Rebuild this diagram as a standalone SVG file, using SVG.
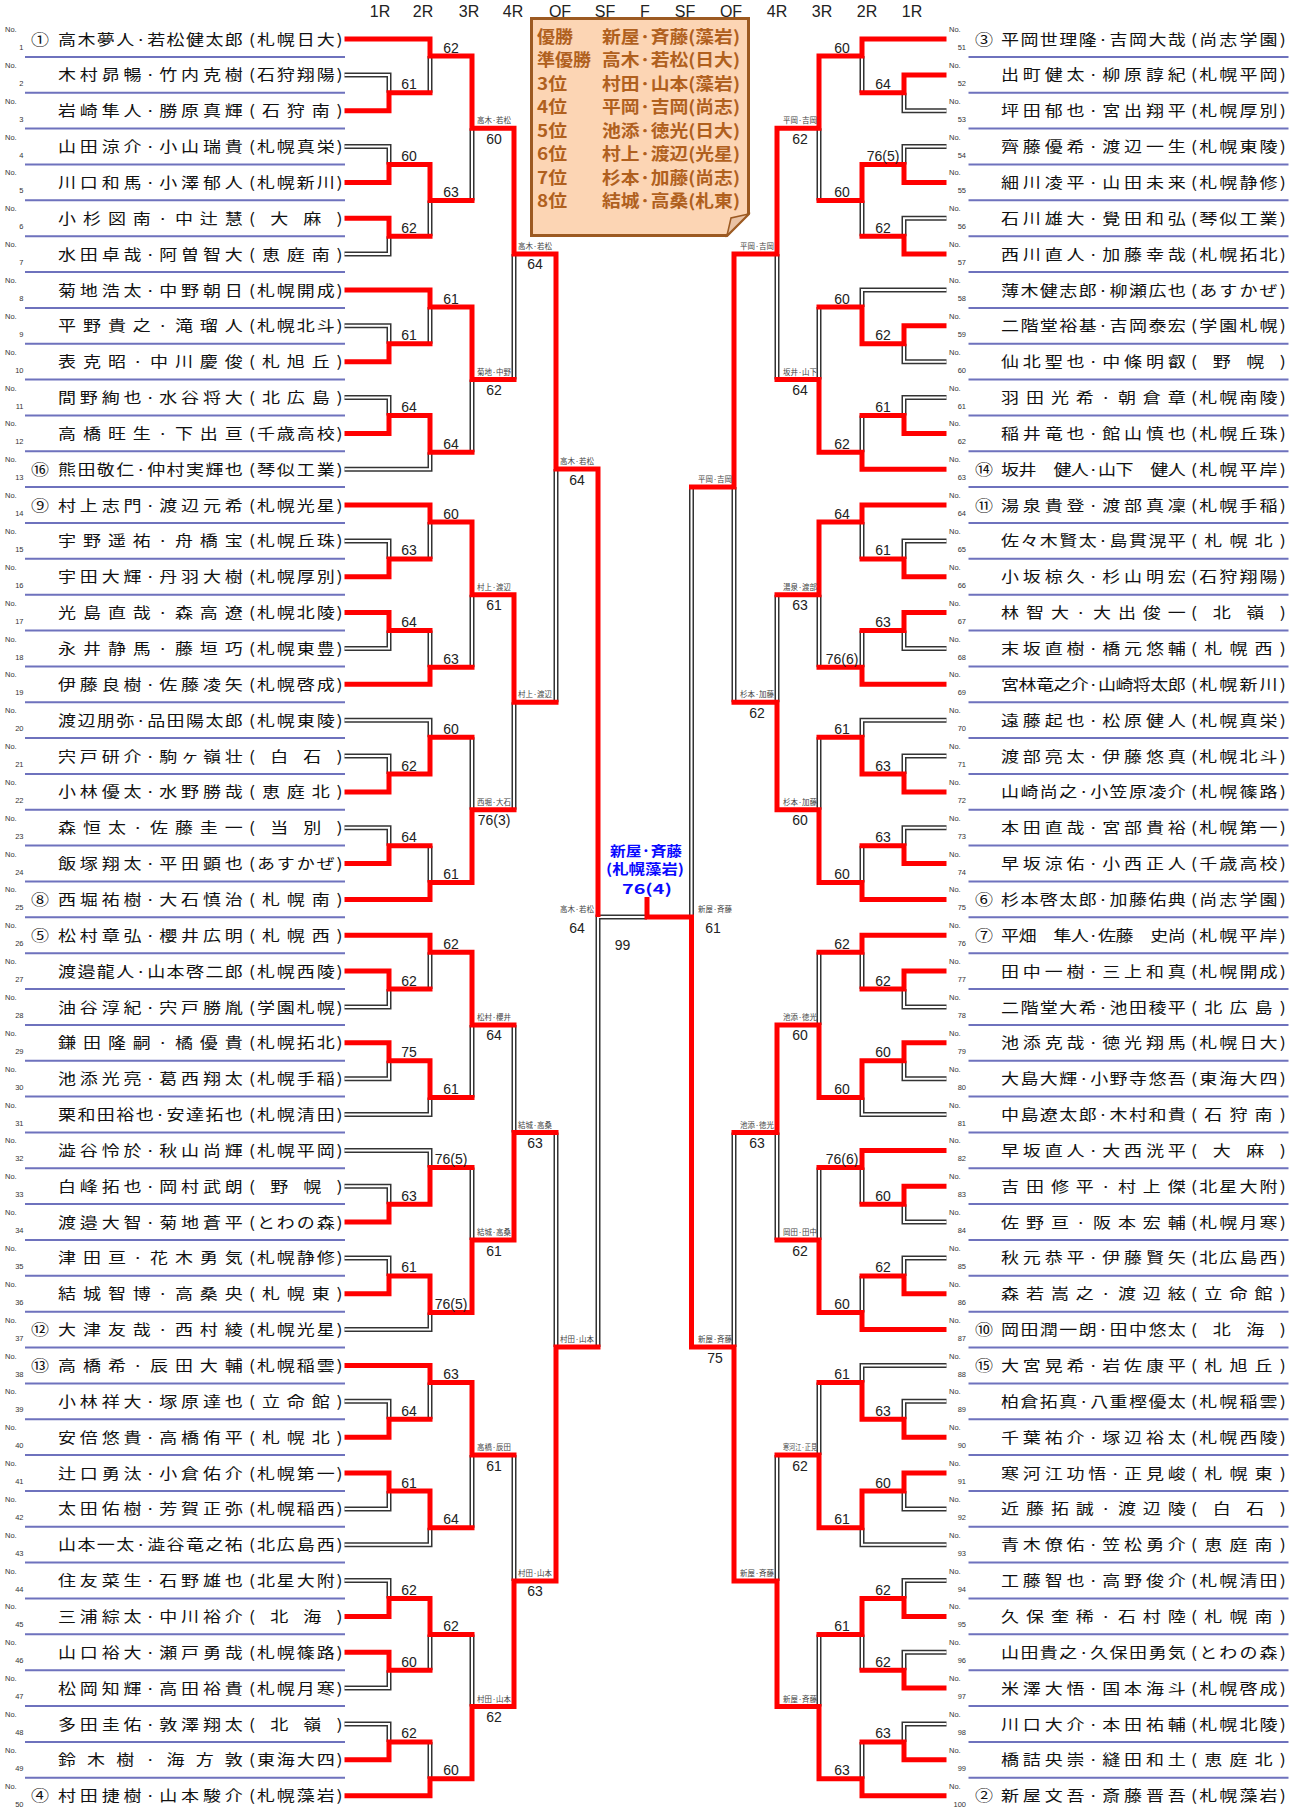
<svg xmlns="http://www.w3.org/2000/svg" width="1302" height="1809" viewBox="0 0 1302 1809">
<style>
text{font-family:"Noto Sans CJK JP","Noto Sans CJK SC",sans-serif}
.no,.nn,.s,.hd{font-family:"Liberation Sans",Arial,sans-serif}
.no{font-size:7.5px;fill:#333}
.nn{font-size:7.5px;fill:#333;text-anchor:end}
.nmL,.scL,.sdL,.nmR,.scR,.sdR{font-size:15px;fill:#111}
.nmL{transform:matrix(1.2,0,0,1,58,5.5)}
.scL{transform:matrix(1.2,0,0,1,249,5.5)}
.sdL{transform:matrix(1.2,0,0,1,40,5.5);text-anchor:middle}
.nmR{transform:matrix(1.2,0,0,1,1001,5.5)}
.scR{transform:matrix(1.2,0,0,1,1191,5.5)}
.sdR{transform:matrix(1.2,0,0,1,984,5.5);text-anchor:middle}
.s{font-size:14px;fill:#222;text-anchor:middle}
.lb{font-size:7.5px;fill:#444;text-anchor:middle}
.hd{font-size:16px;fill:#222;text-anchor:middle}
.lg{font-size:17px;font-weight:bold;fill:#b0601e}
.ch{font-size:14px;font-weight:bold;fill:#0a0aff;text-anchor:middle}
.r{fill:none;stroke:#ff0000;stroke-width:5;stroke-linejoin:miter}
.sep{fill:none;stroke:#6e72bd;stroke-width:2}
</style>
<defs>
<path id="sepL" d="M25 56.9H345M25 92.8H345M25 128.6H345M25 164.5H345M25 200.3H345M25 236.2H345M25 272H345M25 307.9H345M25 343.7H345M25 379.6H345M25 415.4H345M25 451.3H345M25 487.1H345M25 523H345M25 558.8H345M25 594.7H345M25 630.5H345M25 666.4H345M25 702.2H345M25 738.1H345M25 773.9H345M25 809.8H345M25 845.6H345M25 881.5H345M25 917.3H345M25 953.2H345M25 989H345M25 1024.9H345M25 1060.7H345M25 1096.6H345M25 1132.4H345M25 1168.3H345M25 1204.1H345M25 1240H345M25 1275.8H345M25 1311.7H345M25 1347.5H345M25 1383.4H345M25 1419.2H345M25 1455.1H345M25 1490.9H345M25 1526.8H345M25 1562.6H345M25 1598.5H345M25 1634.3H345M25 1670.2H345M25 1706H345M25 1741.9H345M25 1777.7H345"/>
<path id="dbl" d="M344.5 74.9H389V92.8M344.5 146.6H389V164.5M344.5 254.1H389V236.2M344.5 325.8H389V343.8M344.5 397.5H389V415.5M344.5 469.2H430V452.2M344.5 540.9H389V558.9M344.5 648.5H389V630.6M344.5 720.2H430V737.2M344.5 756H389V774M344.5 827.7H389V845.7M344.5 1007H389V989.1M344.5 1078.7H389V1060.8M344.5 1114.5H430V1097.5M344.5 1150.4H430V1167.4M344.5 1186.2H389V1204.2M344.5 1257.9H389V1275.9M344.5 1329.6H430V1312.6M344.5 1401.3H389V1419.3M344.5 1508.9H389V1491M344.5 1544.7H430V1527.7M344.5 1580.6H389V1598.5M344.5 1688.1H389V1670.2M344.5 1724H389V1741.9
M430 92.8V56M472 200.4V128.2M430 236.2V200.4M514 379.6V253.9M430 343.8V307M472 452.2V379.6M556 702.3V469M430 558.9V522.1M430 630.6V667.3M472 667.3V594.7M472 737.2V809.8M430 845.7V882.4M514 809.8V702.3M514 1024.9V1132.5M430 989.1V952.3M472 1097.5V1024.9M472 1167.4V1240M556 1132.5V1347M514 1455.1V1580.9M430 1419.3V1382.5M472 1527.7V1455.1M472 1634.4V1706.6M430 1670.2V1634.4M430 1741.9V1778.7M647 917H598V1347
M946.5 110.7H904V92.8M946.5 146.6H904V164.5M946.5 218.3H904V236.2M946.5 290H862V307M946.5 361.7H904V343.8M946.5 397.5H904V415.5M946.5 540.9H904V558.9M946.5 648.5H904V630.6M946.5 720.2H862V737.2M946.5 756H904V774M946.5 827.7H904V845.7M946.5 1007H904V989.1M946.5 1078.7H904V1060.8M946.5 1114.5H862V1097.5M946.5 1222.1H904V1204.2M946.5 1257.9H904V1275.9M946.5 1365.5H862V1382.5M946.5 1401.3H904V1419.3M946.5 1508.9H904V1491M946.5 1544.7H862V1527.7M946.5 1580.6H904V1598.5M946.5 1652.3H904V1670.2M946.5 1724H904V1741.9
M691.5 487V917M862 92.8V56M819 200.4V128.2M862 236.2V200.4M819 307V379.6M862 415.5V452.2M777 379.6V253.9M777 594.7V702.3M862 558.9V522.1M862 630.6V667.3M819 667.3V594.7M819 737.2V809.8M862 845.7V882.4M734 702.3V487M819 952.3V1024.9M862 989.1V952.3M734 1132.5V1347M819 1167.4V1240M862 1204.2V1167.4M862 1275.9V1312.6M777 1240V1132.5M819 1382.5V1455.1M777 1455.1V1580.9M819 1634.4V1706.6M862 1670.2V1634.4M862 1741.9V1778.7"/>
</defs>
<rect width="1302" height="1809" fill="#fff"/>

<g id="header">
<text class="hd" x="380" y="17">1R</text><text class="hd" x="423" y="17">2R</text><text class="hd" x="469" y="17">3R</text><text class="hd" x="513" y="17">4R</text><text class="hd" x="560" y="17">QF</text><text class="hd" x="605" y="17">SF</text><text class="hd" x="645" y="17">F</text><text class="hd" x="685" y="17">SF</text><text class="hd" x="731" y="17">QF</text><text class="hd" x="777" y="17">4R</text><text class="hd" x="822" y="17">3R</text><text class="hd" x="867" y="17">2R</text><text class="hd" x="912" y="17">1R</text>
</g>

<g id="separators">
<use href="#sepL" class="sep"/>
<use href="#sepL" class="sep" transform="translate(943.5 0)"/>
</g>

<g id="legend">
<path d="M531.5 18.5H748.5V214L727 235.5H531.5Z" fill="#fcd5b4" stroke="#9c5a22" stroke-width="3"/>
<path d="M748.5 214L727 235.5L731 218Z" fill="#e9c2a4" stroke="#9c5a22" stroke-width="1.5"/>
<text class="lg" x="537" y="42.5" textLength="36" lengthAdjust="spacingAndGlyphs">優勝</text><text class="lg" x="602" y="42.5" textLength="138" lengthAdjust="spacingAndGlyphs">新屋·斉藤(藻岩)</text>
<text class="lg" x="537" y="66" textLength="54" lengthAdjust="spacingAndGlyphs">準優勝</text><text class="lg" x="602" y="66" textLength="138" lengthAdjust="spacingAndGlyphs">高木·若松(日大)</text>
<text class="lg" x="537" y="89.5" textLength="30" lengthAdjust="spacingAndGlyphs">3位</text><text class="lg" x="602" y="89.5" textLength="138" lengthAdjust="spacingAndGlyphs">村田·山本(藻岩)</text>
<text class="lg" x="537" y="113" textLength="30" lengthAdjust="spacingAndGlyphs">4位</text><text class="lg" x="602" y="113" textLength="138" lengthAdjust="spacingAndGlyphs">平岡·吉岡(尚志)</text>
<text class="lg" x="537" y="136.5" textLength="30" lengthAdjust="spacingAndGlyphs">5位</text><text class="lg" x="602" y="136.5" textLength="138" lengthAdjust="spacingAndGlyphs">池添·徳光(日大)</text>
<text class="lg" x="537" y="160" textLength="30" lengthAdjust="spacingAndGlyphs">6位</text><text class="lg" x="602" y="160" textLength="138" lengthAdjust="spacingAndGlyphs">村上·渡辺(光星)</text>
<text class="lg" x="537" y="183.5" textLength="30" lengthAdjust="spacingAndGlyphs">7位</text><text class="lg" x="602" y="183.5" textLength="138" lengthAdjust="spacingAndGlyphs">杉本·加藤(尚志)</text>
<text class="lg" x="537" y="207" textLength="30" lengthAdjust="spacingAndGlyphs">8位</text><text class="lg" x="602" y="207" textLength="138" lengthAdjust="spacingAndGlyphs">結城·高桑(札東)</text>
</g>

<g id="connectors">
<use href="#dbl" fill="none" stroke="#333" stroke-width="5"/>
<use href="#dbl" fill="none" stroke="#fff" stroke-width="2"/>
<path class="r" d="M344.5 39H430V56H472V128.2H514V253.9H556V469H598V917M344.5 110.7H389V92.8H432.5M344.5 182.4H389V164.5H430V200.4H474.5M344.5 218.3H389V236.2H432.5M344.5 290H430V307H472V379.6H516.5M344.5 361.7H389V343.8H432.5M344.5 433.4H389V415.5H430V452.2H474.5M344.5 505.1H430V522.1H472V594.7H514V702.3H558.5M344.5 576.8H389V558.9H432.5M344.5 612.6H389V630.6H432.5M344.5 684.3H430V667.3H474.5M344.5 791.9H389V774H430V737.2H474.5M344.5 863.6H389V845.7H432.5M344.5 899.4H430V882.4H472V809.8H516.5M344.5 935.3H430V952.3H472V1024.9H516.5M344.5 971.1H389V989.1H432.5M344.5 1042.8H389V1060.8H430V1097.5H474.5M344.5 1222.1H389V1204.2H430V1167.4H474.5M344.5 1293.8H389V1275.9H430V1312.6H472V1240H514V1132.5H558.5M344.5 1365.5H430V1382.5H472V1455.1H516.5M344.5 1437.2H389V1419.3H432.5M344.5 1473H389V1491H430V1527.7H474.5M344.5 1616.4H389V1598.5H430V1634.4H474.5M344.5 1652.3H389V1670.2H432.5M344.5 1759.8H389V1741.9H432.5M344.5 1795.7H430V1778.7H472V1706.6H514V1580.9H556V1347H600.5"/>
<path class="r" d="M946.5 39H862V56H819V128.2H777V253.9H734V487H689M946.5 74.9H904V92.8H859.5M946.5 182.4H904V164.5H862V200.4H816.5M946.5 254.1H904V236.2H859.5M946.5 325.8H904V343.8H862V307H816.5M946.5 433.4H904V415.5H859.5M946.5 469.2H862V452.2H819V379.6H774.5M946.5 505.1H862V522.1H819V594.7H774.5M946.5 576.8H904V558.9H859.5M946.5 612.6H904V630.6H859.5M946.5 684.3H862V667.3H816.5M946.5 791.9H904V774H862V737.2H816.5M946.5 863.6H904V845.7H859.5M946.5 899.4H862V882.4H819V809.8H777V702.3H731.5M946.5 935.3H862V952.3H816.5M946.5 971.1H904V989.1H859.5M946.5 1042.8H904V1060.8H862V1097.5H819V1024.9H777V1132.5H731.5M946.5 1150.4H862V1167.4H816.5M946.5 1186.2H904V1204.2H859.5M946.5 1293.8H904V1275.9H859.5M946.5 1329.6H862V1312.6H819V1240H774.5M946.5 1437.2H904V1419.3H862V1382.5H816.5M946.5 1473H904V1491H862V1527.7H819V1455.1H774.5M946.5 1616.4H904V1598.5H862V1634.4H816.5M946.5 1688.1H904V1670.2H859.5M946.5 1759.8H904V1741.9H859.5M946.5 1795.7H862V1778.7H819V1706.6H777V1580.9H734V1347H691.5V917H647V897"/>
</g>

<g id="scores">
<text class="s" x="409" y="89.3">61</text><text class="s" x="409" y="161">60</text><text class="s" x="409" y="232.7">62</text><text class="s" x="409" y="340.3">61</text><text class="s" x="409" y="412">64</text><text class="s" x="409" y="555.4">63</text><text class="s" x="409" y="627.1">64</text><text class="s" x="409" y="770.5">62</text><text class="s" x="409" y="842.2">64</text><text class="s" x="409" y="985.6">62</text><text class="s" x="409" y="1057.3">75</text><text class="s" x="409" y="1200.7">63</text><text class="s" x="409" y="1272.4">61</text><text class="s" x="409" y="1415.8">64</text><text class="s" x="409" y="1487.5">61</text><text class="s" x="409" y="1595">62</text><text class="s" x="409" y="1666.7">60</text><text class="s" x="409" y="1738.4">62</text>
<text class="s" x="451" y="52.5">62</text><text class="s" x="451" y="196.9">63</text><text class="s" x="451" y="303.5">61</text><text class="s" x="451" y="448.7">64</text><text class="s" x="451" y="518.6">60</text><text class="s" x="451" y="663.8">63</text><text class="s" x="451" y="733.7">60</text><text class="s" x="451" y="878.9">61</text><text class="s" x="451" y="948.8">62</text><text class="s" x="451" y="1094">61</text><text class="s" x="451" y="1163.9">76(5)</text><text class="s" x="451" y="1309.1">76(5)</text><text class="s" x="451" y="1379">63</text><text class="s" x="451" y="1524.2">64</text><text class="s" x="451" y="1630.9">62</text><text class="s" x="451" y="1775.2">60</text>
<text class="s" x="883" y="89.3">64</text><text class="s" x="883" y="161">76(5)</text><text class="s" x="883" y="232.7">62</text><text class="s" x="883" y="340.3">62</text><text class="s" x="883" y="412">61</text><text class="s" x="883" y="555.4">61</text><text class="s" x="883" y="627.1">63</text><text class="s" x="883" y="770.5">63</text><text class="s" x="883" y="842.2">63</text><text class="s" x="883" y="985.6">62</text><text class="s" x="883" y="1057.3">60</text><text class="s" x="883" y="1200.7">60</text><text class="s" x="883" y="1272.4">62</text><text class="s" x="883" y="1415.8">63</text><text class="s" x="883" y="1487.5">60</text><text class="s" x="883" y="1595">62</text><text class="s" x="883" y="1666.7">62</text><text class="s" x="883" y="1738.4">63</text>
<text class="s" x="842" y="52.5">60</text><text class="s" x="842" y="196.9">60</text><text class="s" x="842" y="303.5">60</text><text class="s" x="842" y="448.7">62</text><text class="s" x="842" y="518.6">64</text><text class="s" x="842" y="663.8">76(6)</text><text class="s" x="842" y="733.7">61</text><text class="s" x="842" y="878.9">60</text><text class="s" x="842" y="948.8">62</text><text class="s" x="842" y="1094">60</text><text class="s" x="842" y="1163.9">76(6)</text><text class="s" x="842" y="1309.1">60</text><text class="s" x="842" y="1379">61</text><text class="s" x="842" y="1524.2">61</text><text class="s" x="842" y="1630.9">61</text><text class="s" x="842" y="1775.2">63</text>
<text class="lb" x="494" y="123.2" textLength="34" lengthAdjust="spacingAndGlyphs">高木·若松</text><text class="s" x="494" y="143.7">60</text>
<text class="lb" x="494" y="374.6" textLength="34" lengthAdjust="spacingAndGlyphs">菊地·中野</text><text class="s" x="494" y="395.1">62</text>
<text class="lb" x="494" y="589.7" textLength="34" lengthAdjust="spacingAndGlyphs">村上·渡辺</text><text class="s" x="494" y="610.2">61</text>
<text class="lb" x="494" y="804.8" textLength="34" lengthAdjust="spacingAndGlyphs">西堀·大石</text><text class="s" x="494" y="825.3">76(3)</text>
<text class="lb" x="494" y="1019.9" textLength="34" lengthAdjust="spacingAndGlyphs">松村·櫻井</text><text class="s" x="494" y="1040.4">64</text>
<text class="lb" x="494" y="1235" textLength="34" lengthAdjust="spacingAndGlyphs">結城·高桑</text><text class="s" x="494" y="1255.5">61</text>
<text class="lb" x="494" y="1450.1" textLength="34" lengthAdjust="spacingAndGlyphs">高橋·辰田</text><text class="s" x="494" y="1470.6">61</text>
<text class="lb" x="494" y="1701.6" textLength="34" lengthAdjust="spacingAndGlyphs">村田·山本</text><text class="s" x="494" y="1722.1">62</text>
<text class="lb" x="535" y="248.9" textLength="34" lengthAdjust="spacingAndGlyphs">高木·若松</text><text class="s" x="535" y="269.4">64</text>
<text class="lb" x="535" y="697.3" textLength="34" lengthAdjust="spacingAndGlyphs">村上·渡辺</text>
<text class="lb" x="535" y="1127.5" textLength="34" lengthAdjust="spacingAndGlyphs">結城·高桑</text><text class="s" x="535" y="1148">63</text>
<text class="lb" x="535" y="1575.9" textLength="34" lengthAdjust="spacingAndGlyphs">村田·山本</text><text class="s" x="535" y="1596.4">63</text>
<text class="lb" x="577" y="464" textLength="34" lengthAdjust="spacingAndGlyphs">高木·若松</text><text class="s" x="577" y="484.5">64</text>
<text class="lb" x="577" y="1342" textLength="34" lengthAdjust="spacingAndGlyphs">村田·山本</text>
<text class="lb" x="577" y="912" textLength="34" lengthAdjust="spacingAndGlyphs">高木·若松</text><text class="s" x="577" y="932.5">64</text>
<text class="s" x="622.5" y="950">99</text>
<text class="lb" x="800" y="123.2" textLength="34" lengthAdjust="spacingAndGlyphs">平岡·吉岡</text><text class="s" x="800" y="143.7">62</text>
<text class="lb" x="800" y="374.6" textLength="34" lengthAdjust="spacingAndGlyphs">坂井·山下</text><text class="s" x="800" y="395.1">64</text>
<text class="lb" x="800" y="589.7" textLength="34" lengthAdjust="spacingAndGlyphs">湯泉·渡部</text><text class="s" x="800" y="610.2">63</text>
<text class="lb" x="800" y="804.8" textLength="34" lengthAdjust="spacingAndGlyphs">杉本·加藤</text><text class="s" x="800" y="825.3">60</text>
<text class="lb" x="800" y="1019.9" textLength="34" lengthAdjust="spacingAndGlyphs">池添·徳光</text><text class="s" x="800" y="1040.4">60</text>
<text class="lb" x="800" y="1235" textLength="34" lengthAdjust="spacingAndGlyphs">岡田·田中</text><text class="s" x="800" y="1255.5">62</text>
<text class="lb" x="800" y="1450.1" textLength="34" lengthAdjust="spacingAndGlyphs">寒河江·正見</text><text class="s" x="800" y="1470.6">62</text>
<text class="lb" x="800" y="1701.6" textLength="34" lengthAdjust="spacingAndGlyphs">新屋·斉藤</text>
<text class="lb" x="757" y="248.9" textLength="34" lengthAdjust="spacingAndGlyphs">平岡·吉岡</text>
<text class="lb" x="757" y="697.3" textLength="34" lengthAdjust="spacingAndGlyphs">杉本·加藤</text><text class="s" x="757" y="717.8">62</text>
<text class="lb" x="757" y="1127.5" textLength="34" lengthAdjust="spacingAndGlyphs">池添·徳光</text><text class="s" x="757" y="1148">63</text>
<text class="lb" x="757" y="1575.9" textLength="34" lengthAdjust="spacingAndGlyphs">新屋·斉藤</text>
<text class="lb" x="715" y="482" textLength="34" lengthAdjust="spacingAndGlyphs">平岡·吉岡</text>
<text class="lb" x="715" y="1342" textLength="34" lengthAdjust="spacingAndGlyphs">新屋·斉藤</text><text class="s" x="715" y="1362.5">75</text>
<text class="lb" x="715" y="912" textLength="34" lengthAdjust="spacingAndGlyphs">新屋·斉藤</text><text class="s" x="713" y="932.5">61</text>
</g>

<g id="champion">
<text class="ch" x="646" y="856" textLength="72" lengthAdjust="spacingAndGlyphs">新屋·斉藤</text>
<text class="ch" x="645" y="874" textLength="78" lengthAdjust="spacingAndGlyphs">(札幌藻岩)</text>
<text class="ch" x="647" y="894" textLength="50" lengthAdjust="spacingAndGlyphs">76(4)</text>
</g>

<g id="p1" transform="translate(0 39)"><text class="no" x="5" y="-7">No.</text><text class="nn" x="23.5" y="11">1</text><text class="sdL">①</text><text class="nmL" textLength="154">高木夢人·若松健太郎</text><text class="scL" textLength="78">(札幌日大)</text></g>
<g id="p2" transform="translate(0 74.9)"><text class="no" x="5" y="-7">No.</text><text class="nn" x="23.5" y="11">2</text><text class="nmL" textLength="154">木村昴暢·竹内克樹</text><text class="scL" textLength="78">(石狩翔陽)</text></g>
<g id="p3" transform="translate(0 110.7)"><text class="no" x="5" y="-7">No.</text><text class="nn" x="23.5" y="11">3</text><text class="nmL" textLength="154">岩崎隼人·勝原真輝</text><text class="scL" textLength="78">(石狩南)</text></g>
<g id="p4" transform="translate(0 146.6)"><text class="no" x="5" y="-7">No.</text><text class="nn" x="23.5" y="11">4</text><text class="nmL" textLength="154">山田涼介·小山瑞貴</text><text class="scL" textLength="78">(札幌真栄)</text></g>
<g id="p5" transform="translate(0 182.4)"><text class="no" x="5" y="-7">No.</text><text class="nn" x="23.5" y="11">5</text><text class="nmL" textLength="154">川口和馬·小澤郁人</text><text class="scL" textLength="78">(札幌新川)</text></g>
<g id="p6" transform="translate(0 218.3)"><text class="no" x="5" y="-7">No.</text><text class="nn" x="23.5" y="11">6</text><text class="nmL" textLength="154">小杉図南·中辻慧</text><text class="scL" textLength="78">(大麻)</text></g>
<g id="p7" transform="translate(0 254.1)"><text class="no" x="5" y="-7">No.</text><text class="nn" x="23.5" y="11">7</text><text class="nmL" textLength="154">水田卓哉·阿曽智大</text><text class="scL" textLength="78">(恵庭南)</text></g>
<g id="p8" transform="translate(0 290)"><text class="no" x="5" y="-7">No.</text><text class="nn" x="23.5" y="11">8</text><text class="nmL" textLength="154">菊地浩太·中野朝日</text><text class="scL" textLength="78">(札幌開成)</text></g>
<g id="p9" transform="translate(0 325.8)"><text class="no" x="5" y="-7">No.</text><text class="nn" x="23.5" y="11">9</text><text class="nmL" textLength="154">平野貴之·滝瑠人</text><text class="scL" textLength="78">(札幌北斗)</text></g>
<g id="p10" transform="translate(0 361.7)"><text class="no" x="5" y="-7">No.</text><text class="nn" x="23.5" y="11">10</text><text class="nmL" textLength="154">表克昭·中川慶俊</text><text class="scL" textLength="78">(札旭丘)</text></g>
<g id="p11" transform="translate(0 397.5)"><text class="no" x="5" y="-7">No.</text><text class="nn" x="23.5" y="11">11</text><text class="nmL" textLength="154">間野絢也·水谷将大</text><text class="scL" textLength="78">(北広島)</text></g>
<g id="p12" transform="translate(0 433.4)"><text class="no" x="5" y="-7">No.</text><text class="nn" x="23.5" y="11">12</text><text class="nmL" textLength="154">高橋旺生·下出亘</text><text class="scL" textLength="78">(千歳高校)</text></g>
<g id="p13" transform="translate(0 469.2)"><text class="no" x="5" y="-7">No.</text><text class="nn" x="23.5" y="11">13</text><text class="sdL">⑯</text><text class="nmL" textLength="154">熊田敬仁·仲村実輝也</text><text class="scL" textLength="78">(琴似工業)</text></g>
<g id="p14" transform="translate(0 505.1)"><text class="no" x="5" y="-7">No.</text><text class="nn" x="23.5" y="11">14</text><text class="sdL">⑨</text><text class="nmL" textLength="154">村上志門·渡辺元希</text><text class="scL" textLength="78">(札幌光星)</text></g>
<g id="p15" transform="translate(0 540.9)"><text class="no" x="5" y="-7">No.</text><text class="nn" x="23.5" y="11">15</text><text class="nmL" textLength="154">宇野遥祐·舟橋宝</text><text class="scL" textLength="78">(札幌丘珠)</text></g>
<g id="p16" transform="translate(0 576.8)"><text class="no" x="5" y="-7">No.</text><text class="nn" x="23.5" y="11">16</text><text class="nmL" textLength="154">宇田大輝·丹羽大樹</text><text class="scL" textLength="78">(札幌厚別)</text></g>
<g id="p17" transform="translate(0 612.6)"><text class="no" x="5" y="-7">No.</text><text class="nn" x="23.5" y="11">17</text><text class="nmL" textLength="154">光島直哉·森高遼</text><text class="scL" textLength="78">(札幌北陵)</text></g>
<g id="p18" transform="translate(0 648.5)"><text class="no" x="5" y="-7">No.</text><text class="nn" x="23.5" y="11">18</text><text class="nmL" textLength="154">永井静馬·藤垣巧</text><text class="scL" textLength="78">(札幌東豊)</text></g>
<g id="p19" transform="translate(0 684.3)"><text class="no" x="5" y="-7">No.</text><text class="nn" x="23.5" y="11">19</text><text class="nmL" textLength="154">伊藤良樹·佐藤凌矢</text><text class="scL" textLength="78">(札幌啓成)</text></g>
<g id="p20" transform="translate(0 720.2)"><text class="no" x="5" y="-7">No.</text><text class="nn" x="23.5" y="11">20</text><text class="nmL" textLength="154">渡辺朋弥·品田陽太郎</text><text class="scL" textLength="78">(札幌東陵)</text></g>
<g id="p21" transform="translate(0 756)"><text class="no" x="5" y="-7">No.</text><text class="nn" x="23.5" y="11">21</text><text class="nmL" textLength="154">宍戸研介·駒ヶ嶺壮</text><text class="scL" textLength="78">(白石)</text></g>
<g id="p22" transform="translate(0 791.9)"><text class="no" x="5" y="-7">No.</text><text class="nn" x="23.5" y="11">22</text><text class="nmL" textLength="154">小林優太·水野勝哉</text><text class="scL" textLength="78">(恵庭北)</text></g>
<g id="p23" transform="translate(0 827.7)"><text class="no" x="5" y="-7">No.</text><text class="nn" x="23.5" y="11">23</text><text class="nmL" textLength="154">森恒太·佐藤圭一</text><text class="scL" textLength="78">(当別)</text></g>
<g id="p24" transform="translate(0 863.6)"><text class="no" x="5" y="-7">No.</text><text class="nn" x="23.5" y="11">24</text><text class="nmL" textLength="154">飯塚翔太·平田顕也</text><text class="scL" textLength="78">(あすかぜ)</text></g>
<g id="p25" transform="translate(0 899.4)"><text class="no" x="5" y="-7">No.</text><text class="nn" x="23.5" y="11">25</text><text class="sdL">⑧</text><text class="nmL" textLength="154">西堀祐樹·大石慎治</text><text class="scL" textLength="78">(札幌南)</text></g>
<g id="p26" transform="translate(0 935.3)"><text class="no" x="5" y="-7">No.</text><text class="nn" x="23.5" y="11">26</text><text class="sdL">⑤</text><text class="nmL" textLength="154">松村章弘·櫻井広明</text><text class="scL" textLength="78">(札幌西)</text></g>
<g id="p27" transform="translate(0 971.1)"><text class="no" x="5" y="-7">No.</text><text class="nn" x="23.5" y="11">27</text><text class="nmL" textLength="154">渡邉龍人·山本啓二郎</text><text class="scL" textLength="78">(札幌西陵)</text></g>
<g id="p28" transform="translate(0 1007)"><text class="no" x="5" y="-7">No.</text><text class="nn" x="23.5" y="11">28</text><text class="nmL" textLength="154">油谷淳紀·宍戸勝胤</text><text class="scL" textLength="78">(学園札幌)</text></g>
<g id="p29" transform="translate(0 1042.8)"><text class="no" x="5" y="-7">No.</text><text class="nn" x="23.5" y="11">29</text><text class="nmL" textLength="154">鎌田隆嗣·橘優貴</text><text class="scL" textLength="78">(札幌拓北)</text></g>
<g id="p30" transform="translate(0 1078.7)"><text class="no" x="5" y="-7">No.</text><text class="nn" x="23.5" y="11">30</text><text class="nmL" textLength="154">池添光亮·葛西翔太</text><text class="scL" textLength="78">(札幌手稲)</text></g>
<g id="p31" transform="translate(0 1114.5)"><text class="no" x="5" y="-7">No.</text><text class="nn" x="23.5" y="11">31</text><text class="nmL" textLength="154">栗和田裕也·安達拓也</text><text class="scL" textLength="78">(札幌清田)</text></g>
<g id="p32" transform="translate(0 1150.4)"><text class="no" x="5" y="-7">No.</text><text class="nn" x="23.5" y="11">32</text><text class="nmL" textLength="154">澁谷怜於·秋山尚輝</text><text class="scL" textLength="78">(札幌平岡)</text></g>
<g id="p33" transform="translate(0 1186.2)"><text class="no" x="5" y="-7">No.</text><text class="nn" x="23.5" y="11">33</text><text class="nmL" textLength="154">白峰拓也·岡村武朗</text><text class="scL" textLength="78">(野幌)</text></g>
<g id="p34" transform="translate(0 1222.1)"><text class="no" x="5" y="-7">No.</text><text class="nn" x="23.5" y="11">34</text><text class="nmL" textLength="154">渡邉大智·菊地蒼平</text><text class="scL" textLength="78">(とわの森)</text></g>
<g id="p35" transform="translate(0 1257.9)"><text class="no" x="5" y="-7">No.</text><text class="nn" x="23.5" y="11">35</text><text class="nmL" textLength="154">津田亘·花木勇気</text><text class="scL" textLength="78">(札幌静修)</text></g>
<g id="p36" transform="translate(0 1293.8)"><text class="no" x="5" y="-7">No.</text><text class="nn" x="23.5" y="11">36</text><text class="nmL" textLength="154">結城智博·高桑央</text><text class="scL" textLength="78">(札幌東)</text></g>
<g id="p37" transform="translate(0 1329.6)"><text class="no" x="5" y="-7">No.</text><text class="nn" x="23.5" y="11">37</text><text class="sdL">⑫</text><text class="nmL" textLength="154">大津友哉·西村綾</text><text class="scL" textLength="78">(札幌光星)</text></g>
<g id="p38" transform="translate(0 1365.5)"><text class="no" x="5" y="-7">No.</text><text class="nn" x="23.5" y="11">38</text><text class="sdL">⑬</text><text class="nmL" textLength="154">高橋希·辰田大輔</text><text class="scL" textLength="78">(札幌稲雲)</text></g>
<g id="p39" transform="translate(0 1401.3)"><text class="no" x="5" y="-7">No.</text><text class="nn" x="23.5" y="11">39</text><text class="nmL" textLength="154">小林祥大·塚原達也</text><text class="scL" textLength="78">(立命館)</text></g>
<g id="p40" transform="translate(0 1437.2)"><text class="no" x="5" y="-7">No.</text><text class="nn" x="23.5" y="11">40</text><text class="nmL" textLength="154">安倍悠貴·高橋侑平</text><text class="scL" textLength="78">(札幌北)</text></g>
<g id="p41" transform="translate(0 1473)"><text class="no" x="5" y="-7">No.</text><text class="nn" x="23.5" y="11">41</text><text class="nmL" textLength="154">辻口勇汰·小倉佑介</text><text class="scL" textLength="78">(札幌第一)</text></g>
<g id="p42" transform="translate(0 1508.9)"><text class="no" x="5" y="-7">No.</text><text class="nn" x="23.5" y="11">42</text><text class="nmL" textLength="154">太田佑樹·芳賀正弥</text><text class="scL" textLength="78">(札幌稲西)</text></g>
<g id="p43" transform="translate(0 1544.7)"><text class="no" x="5" y="-7">No.</text><text class="nn" x="23.5" y="11">43</text><text class="nmL" textLength="154">山本一太·澁谷竜之祐</text><text class="scL" textLength="78">(北広島西)</text></g>
<g id="p44" transform="translate(0 1580.6)"><text class="no" x="5" y="-7">No.</text><text class="nn" x="23.5" y="11">44</text><text class="nmL" textLength="154">住友菜生·石野雄也</text><text class="scL" textLength="78">(北星大附)</text></g>
<g id="p45" transform="translate(0 1616.4)"><text class="no" x="5" y="-7">No.</text><text class="nn" x="23.5" y="11">45</text><text class="nmL" textLength="154">三浦綜太·中川裕介</text><text class="scL" textLength="78">(北海)</text></g>
<g id="p46" transform="translate(0 1652.3)"><text class="no" x="5" y="-7">No.</text><text class="nn" x="23.5" y="11">46</text><text class="nmL" textLength="154">山口裕大·瀬戸勇哉</text><text class="scL" textLength="78">(札幌篠路)</text></g>
<g id="p47" transform="translate(0 1688.1)"><text class="no" x="5" y="-7">No.</text><text class="nn" x="23.5" y="11">47</text><text class="nmL" textLength="154">松岡知輝·高田裕貴</text><text class="scL" textLength="78">(札幌月寒)</text></g>
<g id="p48" transform="translate(0 1724)"><text class="no" x="5" y="-7">No.</text><text class="nn" x="23.5" y="11">48</text><text class="nmL" textLength="154">多田圭佑·敦澤翔太</text><text class="scL" textLength="78">(北嶺)</text></g>
<g id="p49" transform="translate(0 1759.8)"><text class="no" x="5" y="-7">No.</text><text class="nn" x="23.5" y="11">49</text><text class="nmL" textLength="154">鈴木樹·海方敦</text><text class="scL" textLength="78">(東海大四)</text></g>
<g id="p50" transform="translate(0 1795.7)"><text class="no" x="5" y="-7">No.</text><text class="nn" x="23.5" y="11">50</text><text class="sdL">④</text><text class="nmL" textLength="154">村田捷樹·山本駿介</text><text class="scL" textLength="78">(札幌藻岩)</text></g>

<g id="p51" transform="translate(0 39)"><text class="no" x="949" y="-7">No.</text><text class="nn" x="966" y="11">51</text><text class="sdR">③</text><text class="nmR" textLength="154">平岡世理隆·吉岡大哉</text><text class="scR" textLength="79">(尚志学園)</text></g>
<g id="p52" transform="translate(0 74.9)"><text class="no" x="949" y="-7">No.</text><text class="nn" x="966" y="11">52</text><text class="nmR" textLength="154">出町健太·柳原諄紀</text><text class="scR" textLength="79">(札幌平岡)</text></g>
<g id="p53" transform="translate(0 110.7)"><text class="no" x="949" y="-7">No.</text><text class="nn" x="966" y="11">53</text><text class="nmR" textLength="154">坪田郁也·宮出翔平</text><text class="scR" textLength="79">(札幌厚別)</text></g>
<g id="p54" transform="translate(0 146.6)"><text class="no" x="949" y="-7">No.</text><text class="nn" x="966" y="11">54</text><text class="nmR" textLength="154">齊藤優希·渡辺一生</text><text class="scR" textLength="79">(札幌東陵)</text></g>
<g id="p55" transform="translate(0 182.4)"><text class="no" x="949" y="-7">No.</text><text class="nn" x="966" y="11">55</text><text class="nmR" textLength="154">細川凌平·山田未来</text><text class="scR" textLength="79">(札幌静修)</text></g>
<g id="p56" transform="translate(0 218.3)"><text class="no" x="949" y="-7">No.</text><text class="nn" x="966" y="11">56</text><text class="nmR" textLength="154">石川雄大·覺田和弘</text><text class="scR" textLength="79">(琴似工業)</text></g>
<g id="p57" transform="translate(0 254.1)"><text class="no" x="949" y="-7">No.</text><text class="nn" x="966" y="11">57</text><text class="nmR" textLength="154">西川直人·加藤幸哉</text><text class="scR" textLength="79">(札幌拓北)</text></g>
<g id="p58" transform="translate(0 290)"><text class="no" x="949" y="-7">No.</text><text class="nn" x="966" y="11">58</text><text class="nmR" textLength="154">薄木健志郎·柳瀬広也</text><text class="scR" textLength="79">(あすかぜ)</text></g>
<g id="p59" transform="translate(0 325.8)"><text class="no" x="949" y="-7">No.</text><text class="nn" x="966" y="11">59</text><text class="nmR" textLength="154">二階堂裕基·吉岡泰宏</text><text class="scR" textLength="79">(学園札幌)</text></g>
<g id="p60" transform="translate(0 361.7)"><text class="no" x="949" y="-7">No.</text><text class="nn" x="966" y="11">60</text><text class="nmR" textLength="154">仙北聖也·中條明叡</text><text class="scR" textLength="79">(野幌)</text></g>
<g id="p61" transform="translate(0 397.5)"><text class="no" x="949" y="-7">No.</text><text class="nn" x="966" y="11">61</text><text class="nmR" textLength="154">羽田光希·朝倉章</text><text class="scR" textLength="79">(札幌南陵)</text></g>
<g id="p62" transform="translate(0 433.4)"><text class="no" x="949" y="-7">No.</text><text class="nn" x="966" y="11">62</text><text class="nmR" textLength="154">稲井竜也·館山慎也</text><text class="scR" textLength="79">(札幌丘珠)</text></g>
<g id="p63" transform="translate(0 469.2)"><text class="no" x="949" y="-7">No.</text><text class="nn" x="966" y="11">63</text><text class="sdR">⑭</text><text class="nmR" textLength="154">坂井　健人·山下　健人</text><text class="scR" textLength="79">(札幌平岸)</text></g>
<g id="p64" transform="translate(0 505.1)"><text class="no" x="949" y="-7">No.</text><text class="nn" x="966" y="11">64</text><text class="sdR">⑪</text><text class="nmR" textLength="154">湯泉貴登·渡部真凜</text><text class="scR" textLength="79">(札幌手稲)</text></g>
<g id="p65" transform="translate(0 540.9)"><text class="no" x="949" y="-7">No.</text><text class="nn" x="966" y="11">65</text><text class="nmR" textLength="154">佐々木賢太·島貫滉平</text><text class="scR" textLength="79">(札幌北)</text></g>
<g id="p66" transform="translate(0 576.8)"><text class="no" x="949" y="-7">No.</text><text class="nn" x="966" y="11">66</text><text class="nmR" textLength="154">小坂椋久·杉山明宏</text><text class="scR" textLength="79">(石狩翔陽)</text></g>
<g id="p67" transform="translate(0 612.6)"><text class="no" x="949" y="-7">No.</text><text class="nn" x="966" y="11">67</text><text class="nmR" textLength="154">林智大·大出俊一</text><text class="scR" textLength="79">(北嶺)</text></g>
<g id="p68" transform="translate(0 648.5)"><text class="no" x="949" y="-7">No.</text><text class="nn" x="966" y="11">68</text><text class="nmR" textLength="154">末坂直樹·橋元悠輔</text><text class="scR" textLength="79">(札幌西)</text></g>
<g id="p69" transform="translate(0 684.3)"><text class="no" x="949" y="-7">No.</text><text class="nn" x="966" y="11">69</text><text class="nmR" textLength="154">宮林竜之介·山崎将太郎</text><text class="scR" textLength="79">(札幌新川)</text></g>
<g id="p70" transform="translate(0 720.2)"><text class="no" x="949" y="-7">No.</text><text class="nn" x="966" y="11">70</text><text class="nmR" textLength="154">遠藤起也·松原健人</text><text class="scR" textLength="79">(札幌真栄)</text></g>
<g id="p71" transform="translate(0 756)"><text class="no" x="949" y="-7">No.</text><text class="nn" x="966" y="11">71</text><text class="nmR" textLength="154">渡部亮太·伊藤悠真</text><text class="scR" textLength="79">(札幌北斗)</text></g>
<g id="p72" transform="translate(0 791.9)"><text class="no" x="949" y="-7">No.</text><text class="nn" x="966" y="11">72</text><text class="nmR" textLength="154">山崎尚之·小笠原凌介</text><text class="scR" textLength="79">(札幌篠路)</text></g>
<g id="p73" transform="translate(0 827.7)"><text class="no" x="949" y="-7">No.</text><text class="nn" x="966" y="11">73</text><text class="nmR" textLength="154">本田直哉·宮部貴裕</text><text class="scR" textLength="79">(札幌第一)</text></g>
<g id="p74" transform="translate(0 863.6)"><text class="no" x="949" y="-7">No.</text><text class="nn" x="966" y="11">74</text><text class="nmR" textLength="154">早坂涼佑·小西正人</text><text class="scR" textLength="79">(千歳高校)</text></g>
<g id="p75" transform="translate(0 899.4)"><text class="no" x="949" y="-7">No.</text><text class="nn" x="966" y="11">75</text><text class="sdR">⑥</text><text class="nmR" textLength="154">杉本啓太郎·加藤佑典</text><text class="scR" textLength="79">(尚志学園)</text></g>
<g id="p76" transform="translate(0 935.3)"><text class="no" x="949" y="-7">No.</text><text class="nn" x="966" y="11">76</text><text class="sdR">⑦</text><text class="nmR" textLength="154">平畑　隼人·佐藤　史尚</text><text class="scR" textLength="79">(札幌平岸)</text></g>
<g id="p77" transform="translate(0 971.1)"><text class="no" x="949" y="-7">No.</text><text class="nn" x="966" y="11">77</text><text class="nmR" textLength="154">田中一樹·三上和真</text><text class="scR" textLength="79">(札幌開成)</text></g>
<g id="p78" transform="translate(0 1007)"><text class="no" x="949" y="-7">No.</text><text class="nn" x="966" y="11">78</text><text class="nmR" textLength="154">二階堂大希·池田稜平</text><text class="scR" textLength="79">(北広島)</text></g>
<g id="p79" transform="translate(0 1042.8)"><text class="no" x="949" y="-7">No.</text><text class="nn" x="966" y="11">79</text><text class="nmR" textLength="154">池添克哉·徳光翔馬</text><text class="scR" textLength="79">(札幌日大)</text></g>
<g id="p80" transform="translate(0 1078.7)"><text class="no" x="949" y="-7">No.</text><text class="nn" x="966" y="11">80</text><text class="nmR" textLength="154">大島大輝·小野寺悠吾</text><text class="scR" textLength="79">(東海大四)</text></g>
<g id="p81" transform="translate(0 1114.5)"><text class="no" x="949" y="-7">No.</text><text class="nn" x="966" y="11">81</text><text class="nmR" textLength="154">中島遼太郎·木村和貴</text><text class="scR" textLength="79">(石狩南)</text></g>
<g id="p82" transform="translate(0 1150.4)"><text class="no" x="949" y="-7">No.</text><text class="nn" x="966" y="11">82</text><text class="nmR" textLength="154">早坂直人·大西洸平</text><text class="scR" textLength="79">(大麻)</text></g>
<g id="p83" transform="translate(0 1186.2)"><text class="no" x="949" y="-7">No.</text><text class="nn" x="966" y="11">83</text><text class="nmR" textLength="154">吉田修平·村上傑</text><text class="scR" textLength="79">(北星大附)</text></g>
<g id="p84" transform="translate(0 1222.1)"><text class="no" x="949" y="-7">No.</text><text class="nn" x="966" y="11">84</text><text class="nmR" textLength="154">佐野亘·阪本宏輔</text><text class="scR" textLength="79">(札幌月寒)</text></g>
<g id="p85" transform="translate(0 1257.9)"><text class="no" x="949" y="-7">No.</text><text class="nn" x="966" y="11">85</text><text class="nmR" textLength="154">秋元恭平·伊藤賢矢</text><text class="scR" textLength="79">(北広島西)</text></g>
<g id="p86" transform="translate(0 1293.8)"><text class="no" x="949" y="-7">No.</text><text class="nn" x="966" y="11">86</text><text class="nmR" textLength="154">森若嵩之·渡辺絃</text><text class="scR" textLength="79">(立命館)</text></g>
<g id="p87" transform="translate(0 1329.6)"><text class="no" x="949" y="-7">No.</text><text class="nn" x="966" y="11">87</text><text class="sdR">⑩</text><text class="nmR" textLength="154">岡田潤一朗·田中悠太</text><text class="scR" textLength="79">(北海)</text></g>
<g id="p88" transform="translate(0 1365.5)"><text class="no" x="949" y="-7">No.</text><text class="nn" x="966" y="11">88</text><text class="sdR">⑮</text><text class="nmR" textLength="154">大宮晃希·岩佐康平</text><text class="scR" textLength="79">(札旭丘)</text></g>
<g id="p89" transform="translate(0 1401.3)"><text class="no" x="949" y="-7">No.</text><text class="nn" x="966" y="11">89</text><text class="nmR" textLength="154">柏倉拓真·八重樫優太</text><text class="scR" textLength="79">(札幌稲雲)</text></g>
<g id="p90" transform="translate(0 1437.2)"><text class="no" x="949" y="-7">No.</text><text class="nn" x="966" y="11">90</text><text class="nmR" textLength="154">千葉祐介·塚辺裕太</text><text class="scR" textLength="79">(札幌西陵)</text></g>
<g id="p91" transform="translate(0 1473)"><text class="no" x="949" y="-7">No.</text><text class="nn" x="966" y="11">91</text><text class="nmR" textLength="154">寒河江功悟·正見峻</text><text class="scR" textLength="79">(札幌東)</text></g>
<g id="p92" transform="translate(0 1508.9)"><text class="no" x="949" y="-7">No.</text><text class="nn" x="966" y="11">92</text><text class="nmR" textLength="154">近藤拓誠·渡辺陵</text><text class="scR" textLength="79">(白石)</text></g>
<g id="p93" transform="translate(0 1544.7)"><text class="no" x="949" y="-7">No.</text><text class="nn" x="966" y="11">93</text><text class="nmR" textLength="154">青木僚佑·笠松勇介</text><text class="scR" textLength="79">(恵庭南)</text></g>
<g id="p94" transform="translate(0 1580.6)"><text class="no" x="949" y="-7">No.</text><text class="nn" x="966" y="11">94</text><text class="nmR" textLength="154">工藤智也·高野俊介</text><text class="scR" textLength="79">(札幌清田)</text></g>
<g id="p95" transform="translate(0 1616.4)"><text class="no" x="949" y="-7">No.</text><text class="nn" x="966" y="11">95</text><text class="nmR" textLength="154">久保奎稀·石村陸</text><text class="scR" textLength="79">(札幌南)</text></g>
<g id="p96" transform="translate(0 1652.3)"><text class="no" x="949" y="-7">No.</text><text class="nn" x="966" y="11">96</text><text class="nmR" textLength="154">山田貴之·久保田勇気</text><text class="scR" textLength="79">(とわの森)</text></g>
<g id="p97" transform="translate(0 1688.1)"><text class="no" x="949" y="-7">No.</text><text class="nn" x="966" y="11">97</text><text class="nmR" textLength="154">米澤大悟·国本海斗</text><text class="scR" textLength="79">(札幌啓成)</text></g>
<g id="p98" transform="translate(0 1724)"><text class="no" x="949" y="-7">No.</text><text class="nn" x="966" y="11">98</text><text class="nmR" textLength="154">川口大介·本田祐輔</text><text class="scR" textLength="79">(札幌北陵)</text></g>
<g id="p99" transform="translate(0 1759.8)"><text class="no" x="949" y="-7">No.</text><text class="nn" x="966" y="11">99</text><text class="nmR" textLength="154">橋詰央崇·縫田和土</text><text class="scR" textLength="79">(恵庭北)</text></g>
<g id="p100" transform="translate(0 1795.7)"><text class="no" x="949" y="-7">No.</text><text class="nn" x="966" y="11">100</text><text class="sdR">②</text><text class="nmR" textLength="154">新屋文吾·斎藤晋吾</text><text class="scR" textLength="79">(札幌藻岩)</text></g>
</svg>
